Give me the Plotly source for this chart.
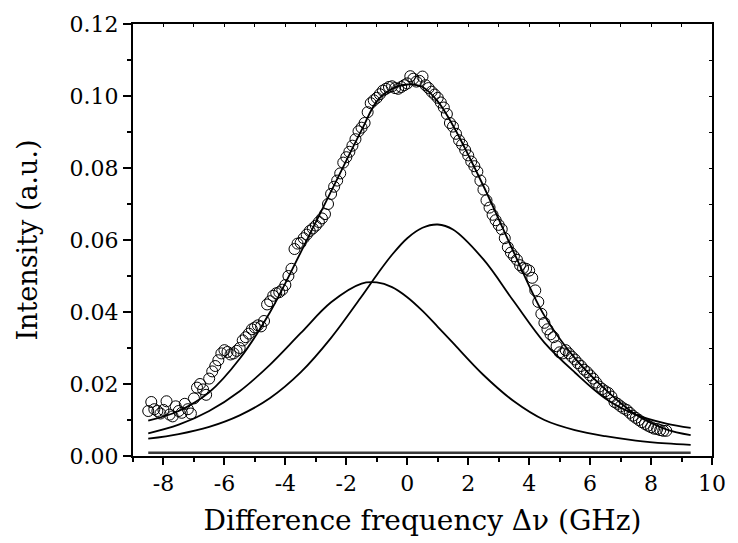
import numpy as np
import plotly.graph_objects as go

# ---------------- data ----------------
curve_x = [-8.5, -7.5, -6.5, -5.5, -4.5, -3.5, -2.5, -1.5, -1.0, -0.5, 0.0, 0.5,
           1.0, 1.5, 2.5, 3.5, 4.5, 5.5, 6.5, 7.5, 8.5, 9.3]
total_fit = [0.0098, 0.0125, 0.0177, 0.0270, 0.0400, 0.0565, 0.0735, 0.0905, 0.0985, 0.1020, 0.1032,
             0.1025, 0.0985, 0.0918, 0.0750, 0.0565, 0.0390, 0.0272, 0.0185, 0.0115, 0.0074, 0.0058]
peak_a = [0.0063, 0.0087, 0.0125, 0.0180, 0.0254, 0.0341, 0.0427, 0.0479, 0.0482, 0.0469, 0.0441,
          0.0403, 0.0359, 0.0314, 0.0225, 0.0152, 0.0100, 0.0072, 0.0055, 0.0043, 0.0035, 0.0031]
peak_b = [0.0048, 0.0061, 0.0081, 0.0113, 0.0161, 0.0232, 0.0328, 0.0443, 0.0503, 0.0559, 0.0605,
          0.0634, 0.0643, 0.0629, 0.0546, 0.0429, 0.0315, 0.0232, 0.0160, 0.0115, 0.0090, 0.0078]
baseline_x = [-8.5, 9.3]
baseline_y = [0.0009, 0.0009]

meas_start, meas_stop = -8.5, 8.5
meas_y = [
    0.0125, 0.0150, 0.0130, 0.0125, 0.0118, 0.0128, 0.0152, 0.0115, 0.0110, 0.0138,
    0.0125, 0.0120, 0.0145, 0.0130, 0.0118, 0.0160, 0.0190, 0.0200, 0.0185, 0.0170,
    0.0215, 0.0235, 0.0250, 0.0266, 0.0285, 0.0294, 0.0289, 0.0282, 0.0285, 0.0292,
    0.0300, 0.0321, 0.0330, 0.0340, 0.0352, 0.0357, 0.0363, 0.0360, 0.0375, 0.0421,
    0.0430, 0.0445, 0.0452, 0.0455, 0.0462, 0.0475, 0.0500, 0.0520, 0.0575, 0.0590,
    0.0592, 0.0605, 0.0615, 0.0625, 0.0632, 0.0640, 0.0650, 0.0660, 0.0672, 0.0700,
    0.0728, 0.0748, 0.0765, 0.0785, 0.0815, 0.0830, 0.0845, 0.0862, 0.0880, 0.0902,
    0.0912, 0.0925, 0.0955, 0.0980, 0.0988, 0.0995, 0.1005, 0.1015, 0.1020, 0.1025,
    0.1027, 0.1022, 0.1020, 0.1025, 0.1030, 0.1035, 0.1055, 0.1048, 0.1040, 0.1042,
    0.1054, 0.1030, 0.1022, 0.1012, 0.1004, 0.0995, 0.0982, 0.0968, 0.0950, 0.0925,
    0.0915, 0.0895, 0.0877, 0.0865, 0.0850, 0.0835, 0.0818, 0.0805, 0.0790, 0.0765,
    0.0740, 0.0710, 0.0690, 0.0670, 0.0655, 0.0642, 0.0630, 0.0605, 0.0580, 0.0565,
    0.0555, 0.0545, 0.0530, 0.0522, 0.0520, 0.0515, 0.0495, 0.0460, 0.0428, 0.0395,
    0.0370, 0.0352, 0.0338, 0.0330, 0.0305, 0.0288, 0.0285, 0.0294, 0.0285, 0.0276,
    0.0268, 0.0258, 0.0250, 0.0240, 0.0233, 0.0224, 0.0215, 0.0204, 0.0193, 0.0186,
    0.0180, 0.0175, 0.0165, 0.0150, 0.0145, 0.0138, 0.0132, 0.0128, 0.0120, 0.0112,
    0.0106, 0.0100, 0.0094, 0.0089, 0.0084, 0.0080, 0.0076, 0.0075, 0.0072, 0.0070,
    0.0070,
]
meas_x = np.linspace(meas_start, meas_stop, len(meas_y))

x_tickvals = [-8, -6, -4, -2, 0, 2, 4, 6, 8, 10]
x_ticktext = ["-8", "-6", "-4", "-2", "0", "2", "4", "6", "8", "10"]
y_tickvals = [0.00, 0.02, 0.04, 0.06, 0.08, 0.10, 0.12]
y_ticktext = ["0.00", "0.02", "0.04", "0.06", "0.08", "0.10", "0.12"]

x_title = "Difference frequency Δν (GHz)"
y_title = "Intensity (a.u.)"

# ---------------- figure ----------------
FONT = "DejaVu Serif"
fig = go.Figure()

fig.add_trace(go.Scatter(x=baseline_x, y=baseline_y, mode="lines",
                         line=dict(color="#3a3a3a", width=2.6), showlegend=False))
for ys in (peak_a, peak_b, total_fit):
    fig.add_trace(go.Scatter(x=curve_x, y=ys, mode="lines",
                             line=dict(color="black", width=1.8, shape="spline", smoothing=1.0),
                             showlegend=False))
fig.add_trace(go.Scatter(x=meas_x, y=meas_y, mode="markers",
                         marker=dict(symbol="circle-open", size=11, color="black",
                                     line=dict(width=1, color="black")),
                         showlegend=False))
fig.add_trace(go.Scatter(x=[None], y=[None], xaxis="x2", yaxis="y2", showlegend=False))

fig.update_layout(
    width=738, height=543,
    margin=dict(l=133, r=13, t=18, b=86),
    paper_bgcolor="white", plot_bgcolor="white",
    font=dict(family=FONT, color="black", size=22),
    xaxis=dict(
        range=[-9, 10], tickmode="array", tickvals=x_tickvals, ticktext=x_ticktext,
        ticks="outside", ticklen=7, tickwidth=1.6, tickcolor="black",
        minor=dict(tickmode="linear", tick0=-9, dtick=1, ticks="outside", ticklen=4,
                   tickwidth=1.6, tickcolor="black"),
        showline=True, linewidth=2, linecolor="black", mirror=True,
        showgrid=False, zeroline=False,
        tickfont=dict(family=FONT, size=22),
        title=dict(text=x_title, font=dict(family=FONT, size=28), standoff=15),
    ),
    yaxis=dict(
        range=[0, 0.12], tickmode="array", tickvals=y_tickvals, ticktext=y_ticktext,
        ticks="outside", ticklen=8, tickwidth=1.6, tickcolor="black",
        minor=dict(tickmode="linear", tick0=0, dtick=0.01, ticks="outside", ticklen=4,
                   tickwidth=1.6, tickcolor="black"),
        showline=True, linewidth=2, linecolor="black", mirror=True,
        showgrid=False, zeroline=False,
        tickfont=dict(family=FONT, size=22),
        title=dict(text=y_title, font=dict(family=FONT, size=27), standoff=24),
    ),
    xaxis2=dict(
        range=[-9, 10], overlaying="x", side="top", tickmode="linear", tick0=-9, dtick=1,
        ticks="inside", ticklen=3, tickwidth=1.4, tickcolor="black",
        showticklabels=False, showline=False, showgrid=False, zeroline=False,
    ),
    yaxis2=dict(
        range=[0, 0.12], overlaying="y", side="right", tickmode="linear", tick0=0, dtick=0.01,
        ticks="inside", ticklen=3, tickwidth=1.4, tickcolor="black",
        showticklabels=False, showline=False, showgrid=False, zeroline=False,
    ),
)

fig.write_html("out.html")
